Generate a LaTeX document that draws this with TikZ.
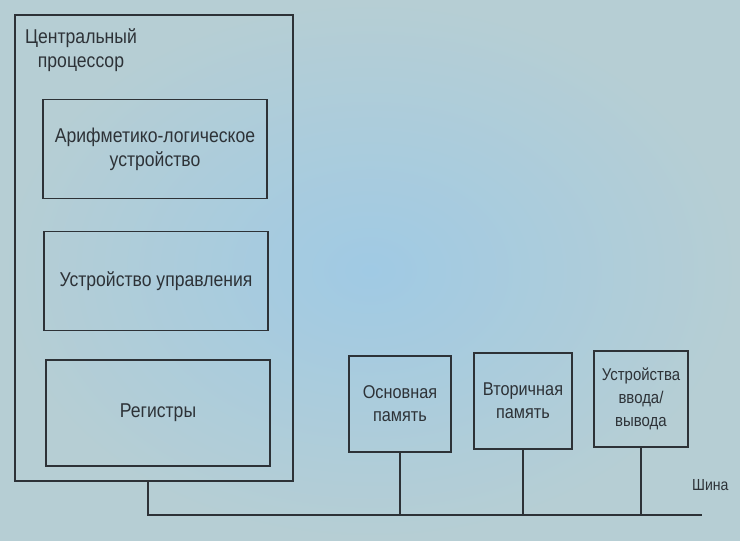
\documentclass[tikz,border=0pt]{standalone}
\usepackage{fontspec}
\setmainfont[FakeStretch=0.88]{Liberation Sans}
\definecolor{bgc}{RGB}{182,206,212}
\definecolor{bgcen}{RGB}{160,202,228}
\definecolor{ink}{RGB}{45,50,55}
\begin{document}
\begin{tikzpicture}[x=1pt,y=-1pt,
  box/.style={draw=ink,line width=1.2pt,inner sep=0pt},
  lbl/.style={text=ink,font=\fontsize{20}{24}\selectfont,align=center},
  plbl/.style={text=ink,font=\fontsize{18.5}{23}\selectfont,align=center},
  iolbl/.style={text=ink,font=\fontsize{17}{23}\selectfont,align=center},
  wire/.style={draw=ink,line width=1.5pt}]
\shade[inner color=bgcen,outer color=bgc] (0,0) rectangle (740,541);
\useasboundingbox (0,0) rectangle (740,541);
% CPU
\node[box,minimum width=278pt,minimum height=466pt] (cpu) at (154,248) {};
\node[lbl,anchor=north] (cpulbl) at (81,25) {Центральный\\процессор};
\node[box,lbl,minimum width=224pt,minimum height=99pt] (alu) at (155,149) {Арифметико-логическое\\устройство};
\node[box,lbl,minimum width=224pt,minimum height=99pt] (cu) at (156,281) {Устройство управления};
\node[box,lbl,minimum width=224pt,minimum height=106pt] (reg) at (158,413) {Регистры};
% peripherals
\node[box,plbl,minimum width=102pt,minimum height=96pt] (mem) at (400,404) {Основная\\память};
\node[box,plbl,minimum width=98pt,minimum height=96pt] (sec) at (523,401) {Вторичная\\память};
\node[box,iolbl,minimum width=94pt,minimum height=96pt] (io) at (641,399) {Устройства\\ввода/\\вывода};
% bus
\coordinate (bl) at (148,515);
\coordinate (br) at (702,515);
\node[plbl,font=\fontsize{16}{20}\selectfont,anchor=south east] (bus) at (732,494) {Шина};
\draw[wire] (cpu.south -| bl) -- (bl) -- (br);
\draw[wire] (mem.south) -- (mem.south |- bl);
\draw[wire] (sec.south) -- (sec.south |- bl);
\draw[wire] (io.south) -- (io.south |- bl);
\end{tikzpicture}
\end{document}
